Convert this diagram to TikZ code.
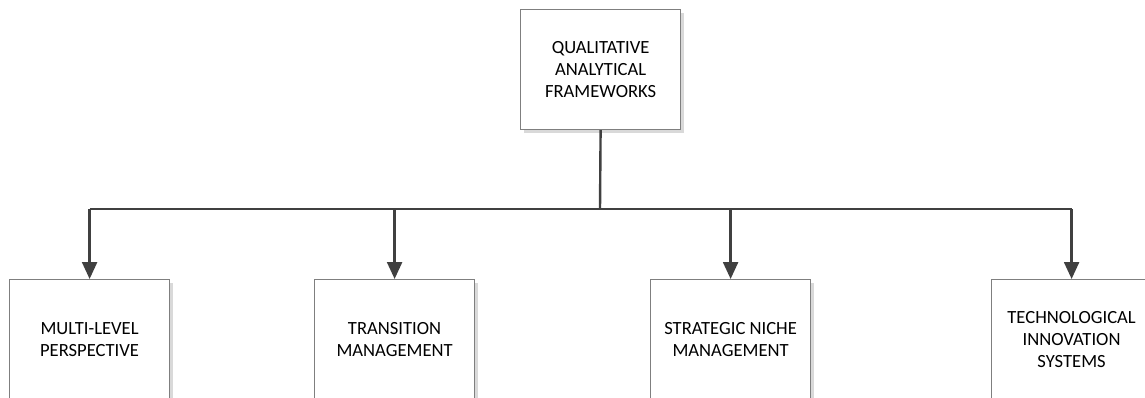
\documentclass[tikz,border=0pt]{standalone}
\usepackage{fontspec}
\setmainfont{Carlito}
\usetikzlibrary{arrows.meta,shadows}
\definecolor{boxline}{HTML}{7F7F7F}
\definecolor{shade}{HTML}{D9D9D9}
\definecolor{wire}{HTML}{404040}
\begin{document}
\begin{tikzpicture}[x=1pt,y=-1pt,
  frame/.style={draw=boxline, line width=1.2pt, fill=white,
    minimum width=160pt, minimum height=120pt, inner sep=0pt,
    anchor=north west, align=center,
    font=\fontsize{18.6}{21.6}\selectfont,
    drop shadow={shadow xshift=3pt, shadow yshift=-3pt, fill=shade, opacity=1}},
  wireline/.style={draw=wire, line width=2.4pt},
  arr/.style={wireline, -{Triangle[length=17pt,width=15pt]}}]
  \useasboundingbox (0,0) rectangle (1145,398);
  \begin{scope}
    \clip (0,0) rectangle (1145,398);
    \node[frame] (top) at (520,9) {QUALITATIVE\\ANALYTICAL\\FRAMEWORKS};
    \node[frame] (mlp) at (9,279) {MULTI-LEVEL\\PERSPECTIVE};
    \node[frame] (tm)  at (314,279) {TRANSITION\\MANAGEMENT};
    \node[frame] (snm) at (650,279) {STRATEGIC NICHE\\MANAGEMENT};
    \node[frame] (tis) at (991,279) {TECHNOLOGICAL\\INNOVATION\\SYSTEMS};
    \coordinate (bus) at (600,209);
    \draw[wireline] (top.south) -- (bus);
    \draw[wireline] (mlp.north |- bus) -- (tis.north |- bus);
    \draw[arr] (mlp.north |- bus) -- (mlp.north);
    \draw[arr] (tm.north |- bus) -- (tm.north);
    \draw[arr] (snm.north |- bus) -- (snm.north);
    \draw[arr] (tis.north |- bus) -- (tis.north);
  \end{scope}
\end{tikzpicture}
\end{document}
